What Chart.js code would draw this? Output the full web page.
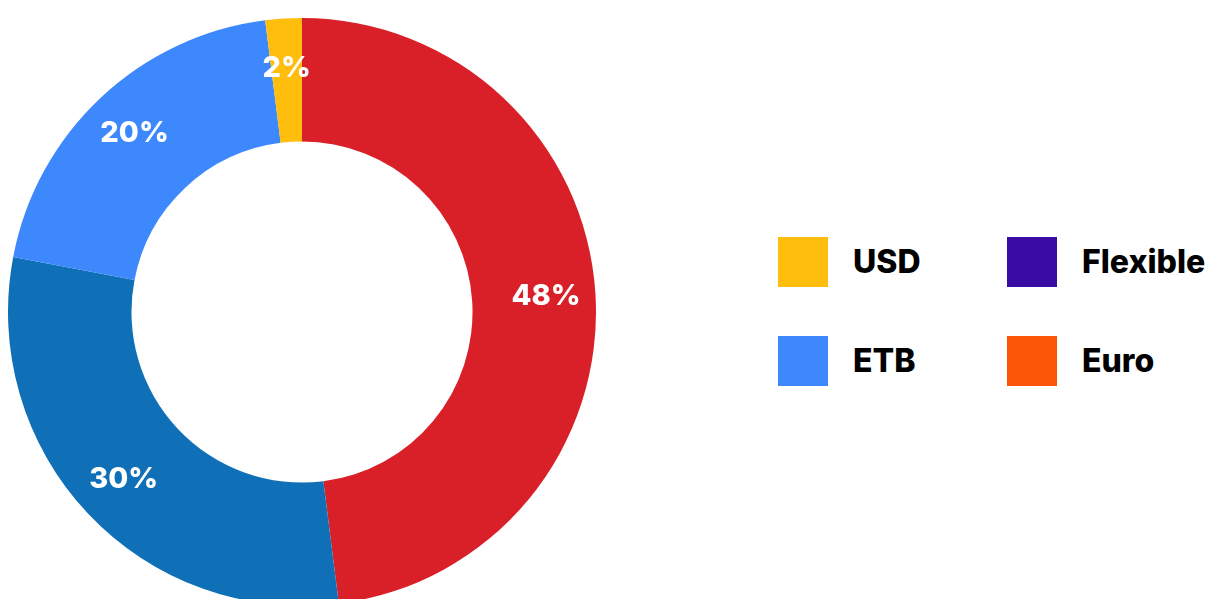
<!DOCTYPE html>
<html>
<head>
<meta charset="utf-8">
<script src="https://cdn.jsdelivr.net/npm/chart.js@4/dist/chart.umd.min.js"></script>
<style>
    html, body { margin: 0; padding: 0; background: #fff; }
    body { width: 1211px; height: 599px; overflow: hidden; position: relative; font-family: "Inter", "DejaVu Sans", sans-serif; }
    #wrap { position: absolute; left: 8px; top: 18px; width: 588px; height: 588px; }
    #legend { position: absolute; left: 778px; top: 237px; display: grid; grid-template-columns: 229px 210px; grid-auto-rows: 99px; }
    .item { display: flex; align-items: flex-start; }
    .sw { width: 50px; height: 50px; flex: none; }
    .lbl { margin-left: 25px; height: 50px; line-height: 50px; font-size: 32px; font-weight: 800; color: #000; letter-spacing: 0px; }
</style>
</head>
<body>
<div id="wrap"><canvas id="chart"></canvas></div>
<div id="legend"></div>

<script>
/* ---------- Data ---------- */

const sliceNames = ["Red", "Dark blue", "ETB", "USD"];
const sliceValues = [48, 30, 20, 2];
const sliceColors = ["#D92028", "#0F70B7", "#3D88FD", "#FFBE0E"];

const legendLabels = ["USD", "Flexible", "ETB", "Euro"];
const legendColors = ["#FFBE0E", "#3A0CA5", "#3D88FD", "#FB5607"];

/* ---------- Legend ---------- */

const legend = document.getElementById("legend");
legendLabels.forEach((name, i) => {
    const item = document.createElement("div");
    item.className = "item";
    const sw = document.createElement("div");
    sw.className = "sw";
    sw.style.background = legendColors[i];
    const lbl = document.createElement("div");
    lbl.className = "lbl";
    lbl.textContent = name;
    item.appendChild(sw);
    item.appendChild(lbl);
    legend.appendChild(item);
});

/* ---------- Slice labels ---------- */

const sliceLabels = {
    id: "sliceLabels",
    afterDatasetsDraw(chart) {
        const ctx = chart.ctx;
        const meta = chart.getDatasetMeta(0);
        ctx.save();
        ctx.fillStyle = "#fff";
        ctx.font = "800 29px Inter, 'DejaVu Sans', sans-serif";
        ctx.textAlign = "center";
        ctx.textBaseline = "middle";
        meta.data.forEach((arc, i) => {
            const p = arc.getProps(["x", "y", "startAngle", "endAngle", "innerRadius", "outerRadius"], true);
            const a = (p.startAngle + p.endAngle) / 2;
            const r = p.innerRadius + (p.outerRadius - p.innerRadius) * 0.6;
            ctx.fillText(sliceValues[i] + "%", p.x + Math.cos(a) * r, p.y + Math.sin(a) * r);
        });
        ctx.restore();
    }
};

/* ---------- Chart ---------- */

new Chart(document.getElementById("chart"), {
    type: "doughnut",
    data: {
        labels: sliceNames,
        datasets: [{
            data: sliceValues,
            backgroundColor: sliceColors,
            borderWidth: 0,
            hoverOffset: 0
        }]
    },
    options: {
        responsive: true,
        maintainAspectRatio: false,
        animation: false,
        cutout: "58%",
        layout: { padding: 0 },
        plugins: {
            legend: { display: false },
            tooltip: { enabled: false }
        }
    },
    plugins: [sliceLabels]
});
</script>
</body>
</html>
